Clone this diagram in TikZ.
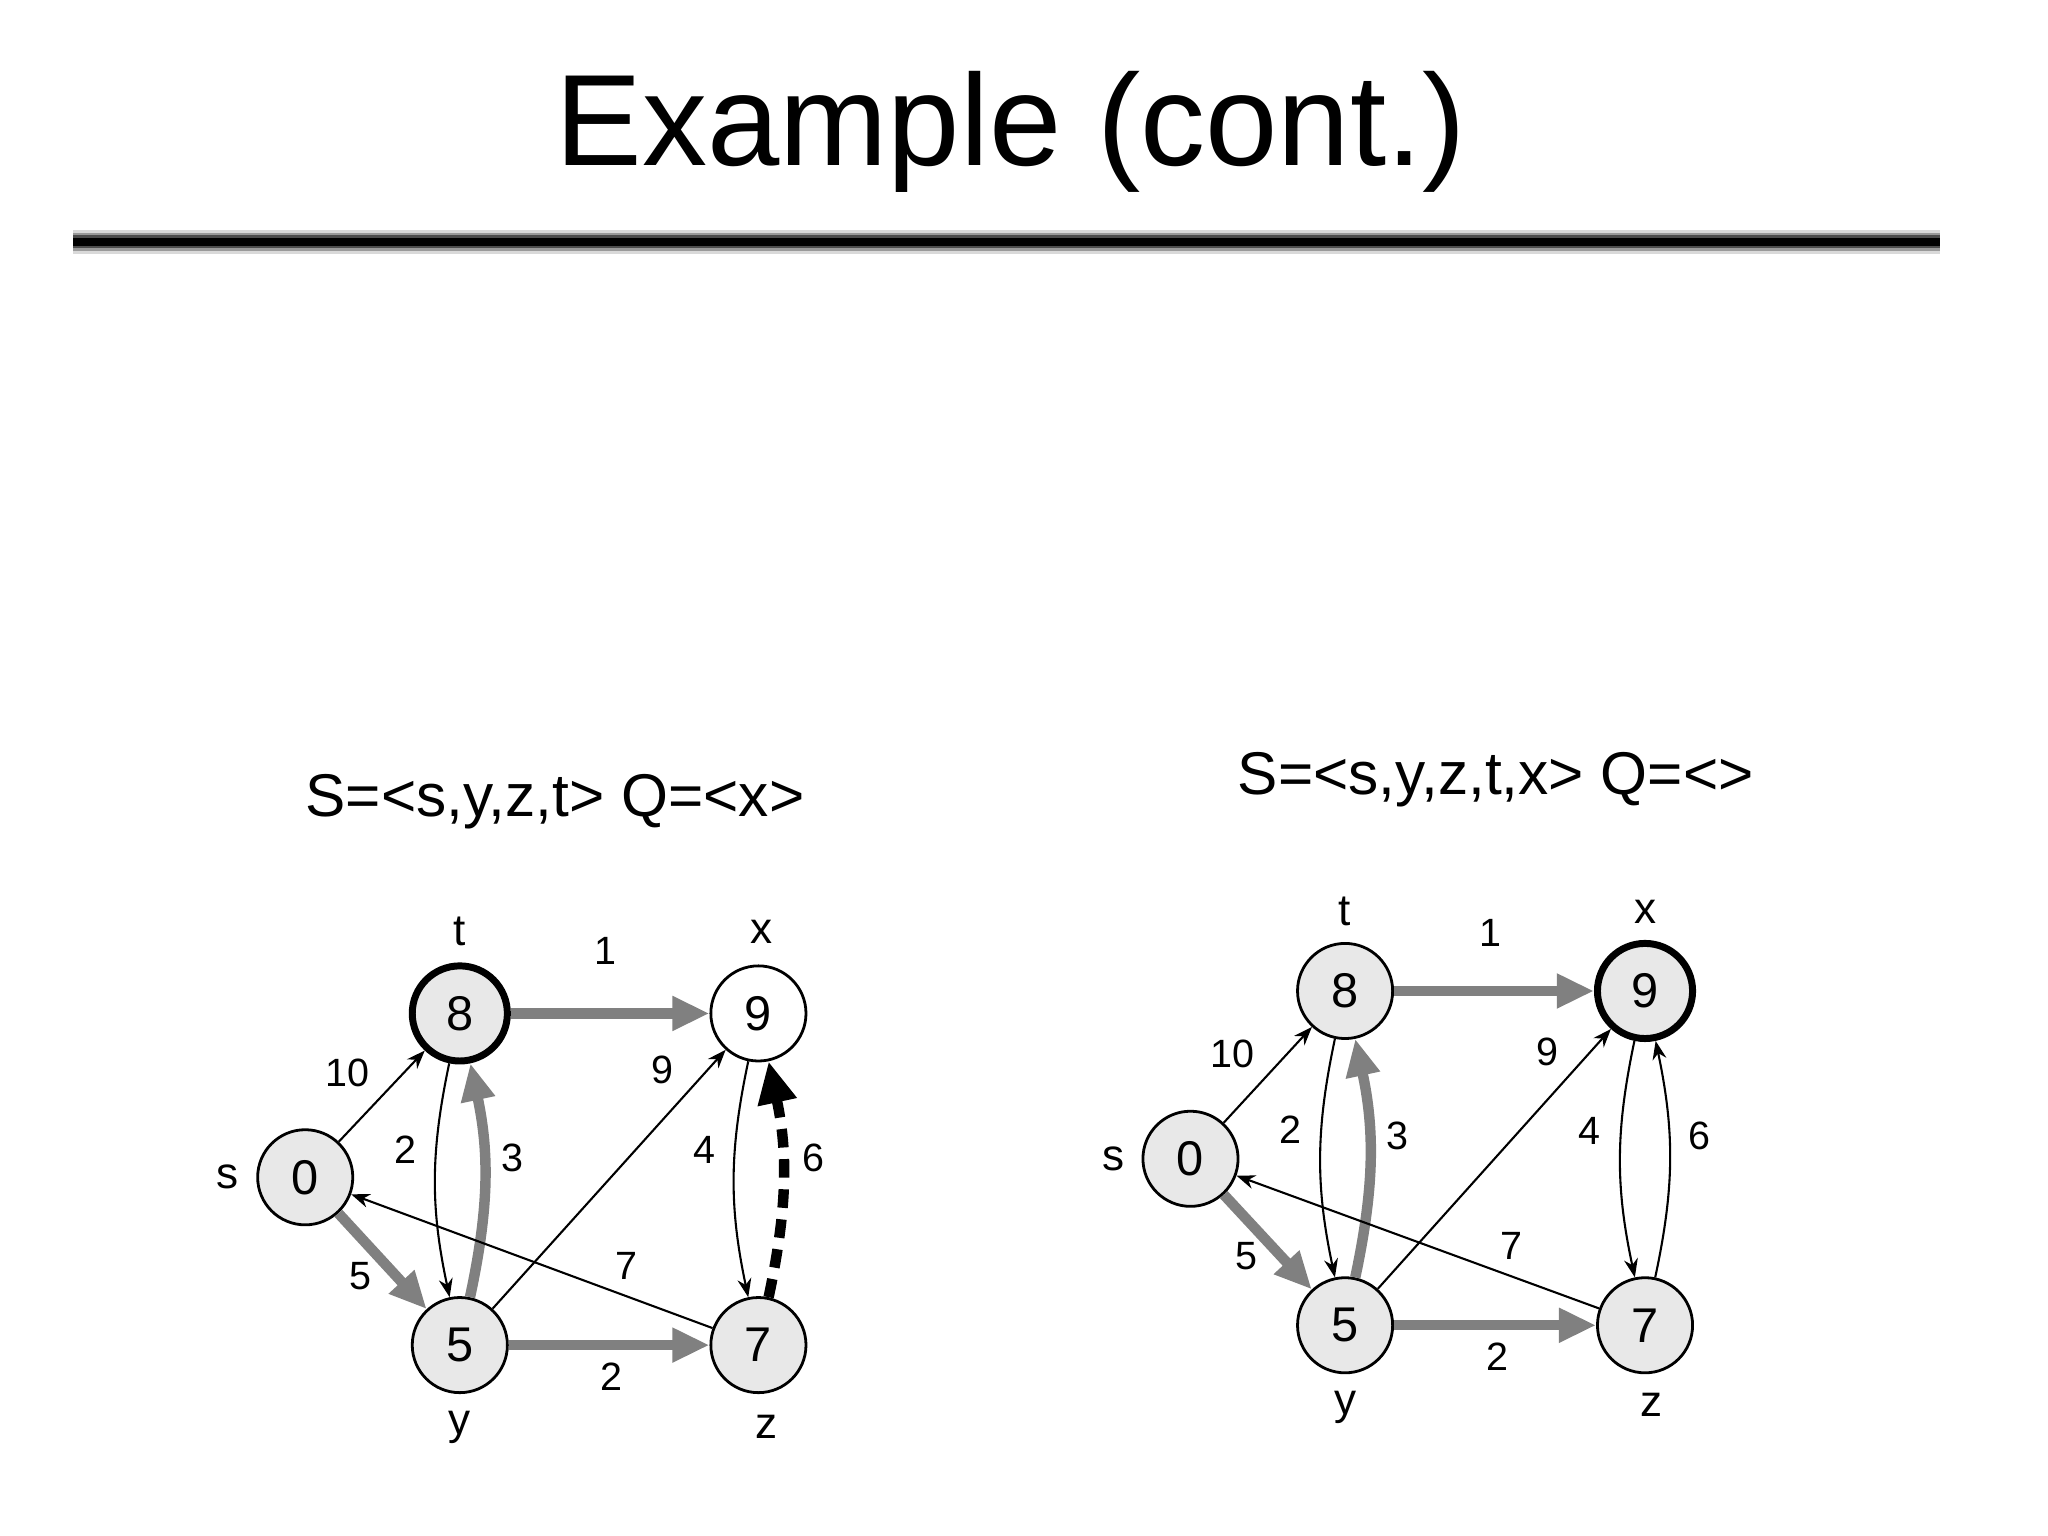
\documentclass[tikz,border=0pt]{standalone}
\usepackage{fontspec}
\setmainfont{Liberation Sans}
\usetikzlibrary{arrows.meta}
\begin{document}
\begin{tikzpicture}[x=0.02cm,y=-0.02cm,
 vtx/.style={circle,draw,line width=1.2pt,minimum size=72*0.02cm,inner sep=0pt,fill=gray!18,font=\fontsize{21}{24}\selectfont},
 bold/.style={line width=3pt},
 lab/.style={font=\fontsize{19}{22}\selectfont},
 elab/.style={font=\fontsize{17}{20}\selectfont},
 thin/.style={line width=0.9pt,-{Stealth[length=8pt,width=6pt]}},
 thick/.style={line width=4.5pt,gray,-{Triangle[length=16pt,width=14pt]}},
 dsh/.style={line width=4.5pt,black,dash pattern=on 8pt off 5pt,-{Triangle[length=18pt,width=16pt]}}]
\useasboundingbox (0,0) rectangle (1550,1162);
\node (title) at (765,100) {\fontsize{56}{60}\selectfont Example (cont.)};
\foreach \w/\c in {9/black!15,7/black!40,5/black!70,3/black}
 \fill[\c] (55,183-\w) rectangle (1468,183+\w);
\node[lab,font=\fontsize{26}{30}\selectfont] (h1) at (420,607) {S=<s,y,z,t> Q=<x>};
\node[lab,font=\fontsize{26}{30}\selectfont] (h2) at (1132,590) {S=<s,y,z,t,x> Q=<>};
% left graph
\node[vtx,bold] (t) at (348,767) {8};
\node[vtx,fill=white] (x) at (574,767) {9};
\node[vtx] (s) at (231,891) {0};
\node[vtx] (y) at (348,1018) {5};
\node[vtx] (z) at (574,1018) {7};
\node[lab] (lt) at (348,705) {t};
\node[lab] (lx) at (576,705) {x};
\node[lab] (ls) at (172,891) {s};
\node[lab] (ly) at (348,1080) {y};
\node[lab] (lz) at (580,1080) {z};
\draw[thin] (s) -- (t);
\draw[thick] (s) -- (y);
\draw[thin] (t) to[bend right=12] (y);
\draw[thick] (y) to[bend right=12] (t);
\draw[thick] (t) -- (x);
\draw[thin] (y) -- (x);
\draw[thick] (y) -- (z);
\draw[thin] (z) -- (s);
\draw[thin] (x) to[bend right=12] (z);
\draw[dsh] (z) to[bend right=12] (x);
\node[elab] (a1) at (263,812) {10};
\node[elab] (a2) at (273,966) {5};
\node[elab] (a3) at (307,870) {2};
\node[elab] (a4) at (388,876) {3};
\node[elab] (a5) at (458,720) {1};
\node[elab] (a6) at (501,810) {9};
\node[elab] (a7) at (463,1042) {2};
\node[elab] (a8) at (474,958) {7};
\node[elab] (a9) at (533,870) {4};
\node[elab] (a10) at (616,876) {6};
% right graph
\node[vtx] (t2) at (1018,750) {8};
\node[vtx,bold] (x2) at (1245,750) {9};
\node[vtx] (s2) at (901,877) {0};
\node[vtx] (y2) at (1018,1003) {5};
\node[vtx] (z2) at (1245,1003) {7};
\node[lab] (lt2) at (1018,690) {t};
\node[lab] (lx2) at (1245,690) {x};
\node[lab] (ls2) at (843,877) {s};
\node[lab] (ly2) at (1018,1065) {y};
\node[lab] (lz2) at (1250,1063) {z};
\draw[thin] (s2) -- (t2);
\draw[thick] (s2) -- (y2);
\draw[thin] (t2) to[bend right=12] (y2);
\draw[thick] (y2) to[bend right=12] (t2);
\draw[thick] (t2) -- (x2);
\draw[thin] (y2) -- (x2);
\draw[thick] (y2) -- (z2);
\draw[thin] (z2) -- (s2);
\draw[thin] (x2) to[bend right=12] (z2);
\draw[thin] (z2) to[bend right=12] (x2);
\node[elab] (b1) at (933,798) {10};
\node[elab] (b2) at (943,951) {5};
\node[elab] (b3) at (977,855) {2};
\node[elab] (b4) at (1058,860) {3};
\node[elab] (b5) at (1128,706) {1};
\node[elab] (b6) at (1171,796) {9};
\node[elab] (b7) at (1133,1027) {2};
\node[elab] (b8) at (1144,943) {7};
\node[elab] (b9) at (1203,856) {4};
\node[elab] (b10) at (1286,860) {6};
\end{tikzpicture}
\end{document}
